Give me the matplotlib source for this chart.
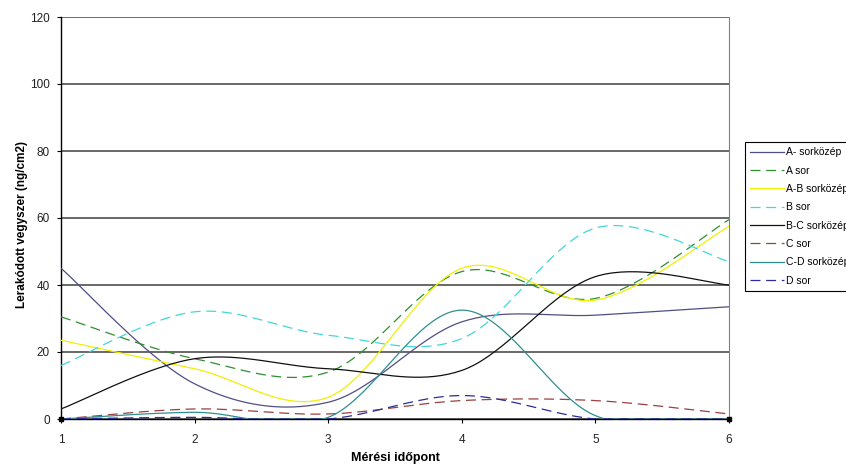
import numpy as np
import matplotlib
matplotlib.use("Agg")
import matplotlib.pyplot as plt

plt.rcParams["font.family"] = ["Liberation Sans", "DejaVu Sans"]

# mérési időpontok
x_points = [1, 2, 3, 4, 5, 6]

a_sorkozep = [45, 10.5, 5, 29, 31, 33.5]
a_sor = [30.5, 18, 14, 44, 36, 59.5]
ab_sorkozep = [23.5, 15, 6.5, 45, 35.5, 57.5]
b_sor = [16, 32, 25, 24, 57, 47]
bc_sorkozep = [3, 18, 15, 14.5, 42.5, 40]
c_sor = [0, 3, 1.5, 5.5, 5.5, 1.5]
cd_sorkozep = [0, 2, 0.5, 32.5, 1, 0]
d_sor = [0, 0.5, 0, 7, 0, 0]

labels = ["A- sorközép", "A sor", "A-B sorközép", "B sor",
          "B-C sorközép", "C sor", "C-D sorközép", "D sor"]
series = [a_sorkozep, a_sor, ab_sorkozep, b_sor,
          bc_sorkozep, c_sor, cd_sorkozep, d_sor]
colors = ["#4f4f85", "#2f8f2f", "#f0f000", "#40d8d8",
          "#111111", "#994040", "#2f8f8f", "#2b2b99"]
dashed = [False, True, False, True, False, True, False, True]


def excel_smooth(xs, ys, n=40):
    # Excel-féle simított vonal: Bezier-szakaszok Catmull-Rom kontrollpontokkal
    xs = np.asarray(xs, float)
    ys = np.asarray(ys, float)
    px = np.concatenate([[xs[0]], xs, [xs[-1]]])
    py = np.concatenate([[ys[0]], ys, [ys[-1]]])
    t = np.linspace(0, 1, n)
    out_x, out_y = [], []
    for i in range(1, len(px) - 2):
        p0 = np.array([px[i], py[i]])
        p3 = np.array([px[i + 1], py[i + 1]])
        c1 = p0 + (np.array([px[i + 1], py[i + 1]]) - np.array([px[i - 1], py[i - 1]])) / 6
        c2 = p3 - (np.array([px[i + 2], py[i + 2]]) - np.array([px[i], py[i]])) / 6
        b = ((1 - t) ** 3)[:, None] * p0 + (3 * (1 - t) ** 2 * t)[:, None] * c1 \
            + (3 * (1 - t) * t ** 2)[:, None] * c2 + (t ** 3)[:, None] * p3
        out_x.extend(b[:, 0])
        out_y.extend(b[:, 1])
    return np.array(out_x), np.array(out_y)


fig = plt.figure(figsize=(8.46, 4.66), dpi=100)
ax = fig.add_axes([61 / 846, 1 - 419 / 466, (729 - 61) / 846, (419 - 17) / 466])

for ys, lab, col, dsh in zip(series, labels, colors, dashed):
    sx, sy = excel_smooth(x_points, ys)
    sy = np.clip(sy, 0, None)
    if dsh:
        ax.plot(sx, sy, color=col, lw=0.9, dashes=(8, 4.5), label=lab, zorder=3)
    else:
        ax.plot(sx, sy, color=col, lw=0.9, label=lab, zorder=3)

# kis fekete jelölők a tengely végén
ax.plot([x_points[0], x_points[-1]], [d_sor[0], d_sor[-1]], ls="none",
        marker="s", ms=3.5, color="black", zorder=4, clip_on=False)

ax.set_xlim(1, 6)
ax.set_ylim(0, 120)
ax.set_xticks(x_points)
ax.set_yticks(range(0, 121, 20))
ax.yaxis.grid(True, color="#404040", lw=1.1)
ax.set_axisbelow(True)
ax.tick_params(labelsize=8.5, length=3, width=0.8, direction="out",
               colors="black", labelcolor="#222222")
ax.tick_params(axis="x", pad=8)
ax.tick_params(axis="y", pad=5)

for side in ["left", "bottom"]:
    ax.spines[side].set_color("black")
    ax.spines[side].set_linewidth(1.0)
ax.spines["right"].set_color("#808080")
ax.spines["top"].set_visible(False)

ax.set_xlabel("Mérési időpont", fontsize=9, fontweight="bold", va="center")
ax.set_ylabel("Lerakódott vegyszer (ng/cm2)", fontsize=8.5, fontweight="bold", va="center")
ax.xaxis.set_label_coords((395 - 61) / 668, -(458 - 419) / 402)
ax.yaxis.set_label_coords(-(61 - 22) / 668, (419 - 224) / 402)

leg = fig.legend(loc="upper left", bbox_to_anchor=(745 / 846, 1 - 142 / 466),
                 fontsize=7.5, frameon=True, fancybox=False, framealpha=1,
                 edgecolor="black", handlelength=3.2, handletextpad=0.2,
                 labelspacing=0.8, borderpad=0.5, borderaxespad=0)
leg.get_frame().set_linewidth(0.8)

fig.savefig("out.png", dpi=100, facecolor="white")
